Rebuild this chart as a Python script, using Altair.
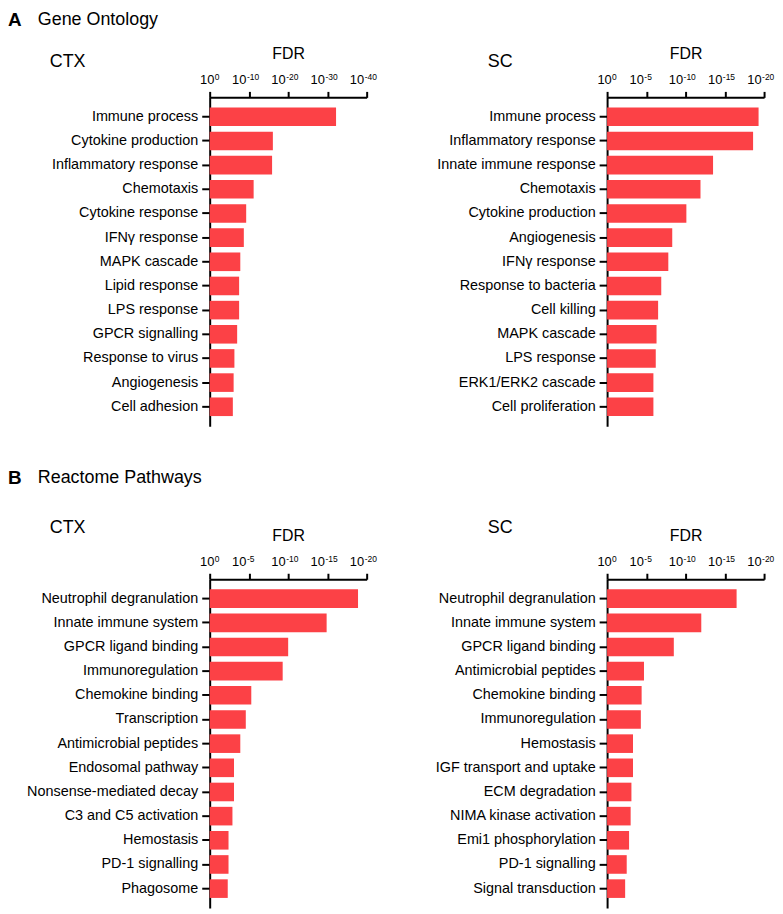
import altair as alt
import pandas as pd

# ---- data (values are -log10(FDR)) ----
go_ctx_terms = ["Immune process", "Cytokine production", "Inflammatory response", "Chemotaxis",
                "Cytokine response", "IFNγ response", "MAPK cascade", "Lipid response",
                "LPS response", "GPCR signalling", "Response to virus", "Angiogenesis", "Cell adhesion"]
go_ctx_vals = [32.2, 16.1, 15.9, 11.2, 9.3, 8.7, 7.8, 7.5, 7.5, 7.0, 6.3, 6.1, 5.9]

go_sc_terms = ["Immune process", "Inflammatory response", "Innate immune response", "Chemotaxis",
               "Cytokine production", "Angiogenesis", "IFNγ response", "Response to bacteria",
               "Cell killing", "MAPK cascade", "LPS response", "ERK1/ERK2 cascade", "Cell proliferation"]
go_sc_vals = [19.3, 18.6, 13.5, 11.9, 10.1, 8.3, 7.8, 6.9, 6.5, 6.3, 6.2, 5.9, 5.9]

re_ctx_terms = ["Neutrophil degranulation", "Innate immune system", "GPCR ligand binding",
                "Immunoregulation", "Chemokine binding", "Transcription", "Antimicrobial peptides",
                "Endosomal pathway", "Nonsense-mediated decay", "C3 and C5 activation",
                "Hemostasis", "PD-1 signalling", "Phagosome"]
re_ctx_vals = [18.9, 14.9, 10.0, 9.3, 5.3, 4.6, 3.9, 3.1, 3.1, 2.9, 2.4, 2.4, 2.3]

re_sc_terms = ["Neutrophil degranulation", "Innate immune system", "GPCR ligand binding",
               "Antimicrobial peptides", "Chemokine binding", "Immunoregulation", "Hemostasis",
               "IGF transport and uptake", "ECM degradation", "NIMA kinase activation",
               "Emi1 phosphorylation", "PD-1 signalling", "Signal transduction"]
re_sc_vals = [16.5, 12.0, 8.5, 4.7, 4.4, 4.3, 3.3, 3.3, 3.1, 3.0, 2.8, 2.5, 2.3]

ticks_40 = [0, 10, 20, 30, 40]
ticks_20 = [0, 5, 10, 15, 20]

headers = {"A": "Gene Ontology", "B": "Reactome Pathways"}

BAR = "#fc4146"
FONT = "Liberation Sans"
W, H = 158, 331


def exponent(v):
    return "-" + str(v) if v else "0"


def panel(terms, vals, ticks, side, side_dx, side_dy, letter=None, header_dy=0):
    df = pd.DataFrame({"term": terms, "val": vals})
    x_axis = alt.Axis(orient="top", values=ticks, labelExpr="'10'", title="FDR",
                      labelAlign={"condition": {"test": "datum.value == 0", "value": "center"},
                                  "value": "right"},
                      labelFlush=False, labelOverlap=False, grid=False, labelOffset=-3,
                      tickSize=6, labelPadding=5, titlePadding=12,
                      labelFontSize=13, titleFontSize=16, titleFontWeight="normal")
    x_scale = alt.Scale(domain=[ticks[0], ticks[-1]], nice=False)
    bars = alt.Chart(df).mark_bar(color=BAR).encode(
        x=alt.X("val:Q", scale=x_scale, axis=x_axis),
        y=alt.Y("term:N", sort=terms,
                scale=alt.Scale(paddingInner=0.23, paddingOuter=0.42),
                axis=alt.Axis(title=None, tickSize=8, labelPadding=4, labelFontSize=14.5,
                              labelLimit=400, grid=False)),
    )
    layers = [bars]
    exp_df = pd.DataFrame({"val": ticks, "exp": [exponent(t) for t in ticks]})
    exp_base = alt.Chart(exp_df).encode(
        x=alt.X("val:Q", scale=x_scale, axis=x_axis), y=alt.value(-24), text="exp:N")
    layers.append(exp_base.mark_text(align="left", baseline="top", fontSize=8.5, font=FONT,
                                     color="black", dx=5).transform_filter("datum.val == 0"))
    layers.append(exp_base.mark_text(align="left", baseline="top", fontSize=8.5, font=FONT,
                                     color="black", dx=-2).transform_filter("datum.val != 0"))
    side_df = pd.DataFrame({"label": [side]})
    layers.append(
        alt.Chart(side_df).mark_text(align="left", baseline="middle", fontSize=18, font=FONT,
                                     color="black")
        .encode(x=alt.value(side_dx), y=alt.value(side_dy), text="label:N")
    )
    if letter:
        let_df = pd.DataFrame({"label": [letter]})
        txt_df = pd.DataFrame({"label": [headers[letter]]})
        layers.append(
            alt.Chart(let_df).mark_text(align="left", baseline="top", fontSize=19,
                                        fontWeight="bold", font=FONT, color="black")
            .encode(x=alt.value(-203), y=alt.value(header_dy), text="label:N")
        )
        layers.append(
            alt.Chart(txt_df).mark_text(align="left", baseline="top", fontSize=18, font=FONT,
                                        color="black")
            .encode(x=alt.value(-173), y=alt.value(header_dy), text="label:N")
        )
    return alt.layer(*layers).properties(width=W, height=H)


a_ctx = panel(go_ctx_terms, go_ctx_vals, ticks_40, "CTX", -161, -36, "A", -87)
a_sc = panel(go_sc_terms, go_sc_vals, ticks_20, "SC", -120, -36)
b_ctx = panel(re_ctx_terms, re_ctx_vals, ticks_20, "CTX", -161, -52, "B", -111)
b_sc = panel(re_sc_terms, re_sc_vals, ticks_20, "SC", -120, -52)

chart = alt.concat(a_ctx, a_sc, b_ctx, b_sc, columns=2,
                   spacing={"row": 154, "column": 242}, bounds="flush").properties(
    padding=0
).configure_axis(
    domainColor="black", domainWidth=2, tickColor="black", tickWidth=2,
    labelColor="black", titleColor="black", labelFont=FONT, titleFont=FONT
).configure_view(stroke=None)

chart.save("out.html", embed_options={"renderer": "svg", "actions": False})
